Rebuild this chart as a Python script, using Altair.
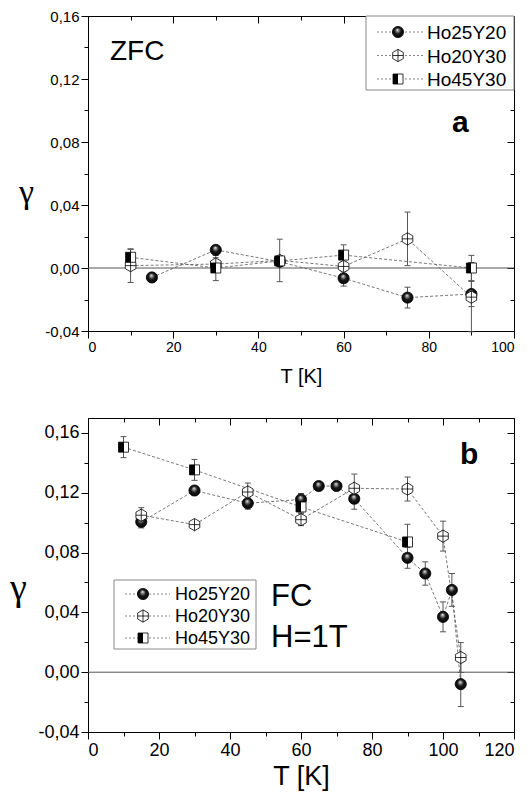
import altair as alt
import pandas as pd

series_names = ["Ho25Y20", "Ho20Y30", "Ho45Y30"]

# ---- panel a : ZFC ----
zfc_T_25 = [15, 30, 45, 60, 75, 90]
zfc_g_25 = [-0.006, 0.0115, 0.004, -0.0065, -0.0188, -0.0165]
zfc_e_25 = [0.0015, 0.002, 0.002, 0.005, 0.0066, 0.008]

zfc_T_20 = [10, 30, 45, 60, 75, 90]
zfc_g_20 = [0.0015, 0.0025, 0.0048, 0.001, 0.0185, -0.0185]
zfc_e_20 = [0.0107, 0.004, 0.0135, 0.003, 0.017, 0.022]

zfc_T_45 = [10, 30, 45, 60, 90]
zfc_g_45 = [0.0068, 0.0, 0.0045, 0.0082, 0.0]
zfc_e_45 = [0.005, 0.008, 0.003, 0.0065, 0.008]

# ---- panel b : FC, H=1T ----
fc_T_25 = [15, 30, 45, 60, 65, 70, 75, 90, 95, 100, 102.5, 105]
fc_g_25 = [0.1005, 0.1215, 0.113, 0.1155, 0.1245, 0.1245, 0.116, 0.0765, 0.066, 0.037, 0.055, -0.008]
fc_e_25 = [0.004, 0.003, 0.004, 0.004, 0.002, 0.003, 0.007, 0.007, 0.0078, 0.010, 0.011, 0.015]

fc_T_20 = [15, 30, 45, 60, 75, 90, 100, 105]
fc_g_20 = [0.105, 0.0987, 0.1205, 0.102, 0.123, 0.1225, 0.091, 0.0098]
fc_e_20 = [0.005, 0.002, 0.006, 0.004, 0.0095, 0.008, 0.010, 0.010]

fc_T_45 = [10, 30, 60, 90]
fc_g_45 = [0.1505, 0.1353, 0.1105, 0.0871]
fc_e_45 = [0.007, 0.007, 0.004, 0.0118]

# ---- ticks ----
a_x_major = [0, 20, 40, 60, 80, 100]
a_x_minor = [10, 30, 50, 70, 90]
b_x_major = [0, 20, 40, 60, 80, 100, 120]
b_x_minor = [10, 30, 50, 70, 90, 110]
y_major = [-0.04, 0.0, 0.04, 0.08, 0.12, 0.16]
y_minor = [-0.02, 0.02, 0.06, 0.10, 0.14]

FONT = "Liberation Sans"
SERIF = "Liberation Serif"

HEX = "M0,-1L0.866,-0.5L0.866,0.5L0,1L-0.866,0.5L-0.866,-0.5Z M0,-1L0,1 M-0.866,0L0.866,0"
SQR = "M-1,-1L1,-1L1,1L-1,1Z"
shapes = {"Ho25Y20": "circle", "Ho20Y30": HEX, "Ho45Y30": SQR}

SPHERE = {"gradient": "radial", "x1": 0.45, "y1": 0.3, "r1": 0.0,
          "x2": 0.5, "y2": 0.5, "r2": 0.55,
          "stops": [{"offset": 0.0, "color": "#f2f2f2"},
                    {"offset": 0.22, "color": "#8a8a8a"},
                    {"offset": 0.5, "color": "#1a1a1a"},
                    {"offset": 1.0, "color": "#000000"}]}
HALF = {"gradient": "linear", "x1": 0, "y1": 0, "x2": 1, "y2": 0,
        "stops": [{"offset": 0.0, "color": "black"}, {"offset": 0.5, "color": "black"},
                  {"offset": 0.5, "color": "white"}, {"offset": 1.0, "color": "white"}]}

fills = {"Ho25Y20": SPHERE, "Ho20Y30": "white", "Ho45Y30": HALF}
sizes = {"Ho25Y20": 125, "Ho20Y30": 150, "Ho45Y30": 100}

YLAB = "replace(replace(format(datum.value, '.2f'), '.', ','), '\u2212', '-')"


def mkdf(name, T, g, e):
    df = pd.DataFrame({"T": T, "g": g, "e": e})
    df["series"] = name
    df["lo"] = df["g"] - df["e"]
    df["hi"] = df["g"] + df["e"]
    return df


def marker(df, name, **enc):
    return alt.Chart(df).mark_point(
        shape=shapes[name], filled=True, fill=fills[name], stroke="black",
        strokeWidth=0.8, size=sizes[name], opacity=1).encode(**enc)


def legend_layers(box, rows_y, sym_x, line_x, lab_x, fs):
    x0, y0, x1, y1 = box
    one = pd.DataFrame({"k": [0]})
    out = [alt.Chart(one).mark_rect(fill="white", stroke="#888888", strokeWidth=1).encode(
        x=alt.value(x0), x2=alt.value(x1), y=alt.value(y0), y2=alt.value(y1))]
    for name, ry in zip(series_names, rows_y):
        d = pd.DataFrame({"s": [name]})
        out.append(alt.Chart(d).mark_rule(strokeDash=[2, 2], color="#666666",
                                          strokeWidth=0.8).encode(
            x=alt.value(line_x[0]), x2=alt.value(line_x[1]), y=alt.value(ry)))
        out.append(marker(d, name, x=alt.value(sym_x), y=alt.value(ry)))
        out.append(alt.Chart(d).mark_text(
            font=FONT, fontSize=fs, color="black", align="left", baseline="middle").encode(
            x=alt.value(lab_x), y=alt.value(ry + 1), text="s:N"))
    return out


def panel(dfs, xdom, ydom, xmaj, xmin, w, h, xfs, yfs, xtitle_fs, xtitle_pad,
          gam_x, gam_y, gam_fs, leg, texts):
    xs = alt.Scale(domain=xdom, nice=False, zero=False)
    ys = alt.Scale(domain=ydom, nice=False, zero=False)
    base = dfs[0]

    def axl(xa, ya):
        return alt.Chart(base).mark_point(opacity=0).encode(
            x=alt.X("T:Q", scale=xs, axis=xa), y=alt.Y("g:Q", scale=ys, axis=ya))

    common = dict(grid=False, tickColor="black", tickWidth=1, domainColor="black",
                  domainWidth=1)
    main = axl(
        alt.Axis(orient="bottom", values=xmaj, format="d", tickSize=7, labelFont=FONT,
                 labelFontSize=xfs, labelColor="black", labelPadding=2, title="T [K]",
                 titleFont=FONT, titleFontSize=xtitle_fs, titleFontWeight="normal",
                 titleColor="black", titlePadding=xtitle_pad, **common),
        alt.Axis(orient="left", values=y_major, labelExpr=YLAB, tickSize=7, labelFont=FONT,
                 labelFontSize=yfs, labelColor="black", labelPadding=2, title="γ",
                 titleAngle=0, titleX=gam_x, titleY=gam_y, titleAlign="center",
                 titleBaseline="middle", titleFont=SERIF, titleFontSize=gam_fs,
                 titleFontWeight="normal", titleColor="black", **common))
    minor = axl(
        alt.Axis(orient="bottom", values=xmin, labels=False, tickSize=4, domain=False,
                 title=None, **common),
        alt.Axis(orient="left", values=y_minor, labels=False, tickSize=4, domain=False,
                 title=None, **common))
    opp_major = axl(
        alt.Axis(orient="top", values=xmaj, labels=False, tickSize=7, offset=-7,
                 domain=False, title=None, **common),
        alt.Axis(orient="right", values=y_major, labels=False, tickSize=7, offset=-7,
                 domain=False, title=None, **common))
    opp_minor = axl(
        alt.Axis(orient="top", values=xmin, labels=False, tickSize=4, offset=-4,
                 domain=False, title=None, **common),
        alt.Axis(orient="right", values=y_minor, labels=False, tickSize=4, offset=-4,
                 domain=False, title=None, **common))

    zero = alt.Chart(pd.DataFrame({"g": [0.0]})).mark_rule(
        color="#555555", strokeWidth=1).encode(y=alt.Y("g:Q", scale=ys, axis=None))

    layers = [main, minor, opp_major, opp_minor, zero]
    for df in dfs:
        layers.append(alt.Chart(df).mark_line(
            strokeDash=[3, 2], color="#555555", strokeWidth=0.8).encode(
            x=alt.X("T:Q", scale=xs, axis=None), y=alt.Y("g:Q", scale=ys, axis=None)))
    for df in dfs:
        layers.append(alt.Chart(df).mark_rule(color="#555555", strokeWidth=1).encode(
            x=alt.X("T:Q", scale=xs, axis=None), y=alt.Y("lo:Q", scale=ys, axis=None),
            y2="hi:Q"))
        caps = pd.concat([df[["T", "lo"]].rename(columns={"lo": "c"}),
                          df[["T", "hi"]].rename(columns={"hi": "c"})])
        layers.append(alt.Chart(caps).mark_point(
            shape="M-1,0L1,0", size=36, stroke="#555555", strokeWidth=1, opacity=1).encode(
            x=alt.X("T:Q", scale=xs, axis=None), y=alt.Y("c:Q", scale=ys, axis=None)))
    for df in dfs:
        name = df["series"].iloc[0]
        layers.append(marker(df, name, x=alt.X("T:Q", scale=xs, axis=None),
                             y=alt.Y("g:Q", scale=ys, axis=None)))
    layers += legend_layers(*leg)
    for (txt, px, py, fs, fw) in texts:
        layers.append(alt.Chart(pd.DataFrame({"t": [txt]})).mark_text(
            font=FONT, fontSize=fs, fontWeight=fw, color="black",
            align="left", baseline="alphabetic").encode(
            x=alt.value(px), y=alt.value(py), text="t:N"))

    return alt.layer(*layers).properties(width=w, height=h).resolve_axis(
        x="independent", y="independent")


dfs_a = [mkdf("Ho25Y20", zfc_T_25, zfc_g_25, zfc_e_25),
         mkdf("Ho20Y30", zfc_T_20, zfc_g_20, zfc_e_20),
         mkdf("Ho45Y30", zfc_T_45, zfc_g_45, zfc_e_45)]
dfs_b = [mkdf("Ho25Y20", fc_T_25, fc_g_25, fc_e_25),
         mkdf("Ho20Y30", fc_T_20, fc_g_20, fc_e_20),
         mkdf("Ho45Y30", fc_T_45, fc_g_45, fc_e_45)]

# legend geometry (pixels inside each plot area)
leg_a = ((278, 0, 426, 74), [16, 39.5, 63], 310, (289, 335), 339, 19)
leg_b = ((26, 162, 168, 231), [176, 198, 220], 55, (37, 82), 87, 18)

top = panel(dfs_a, [0, 100], [-0.04, 0.16], a_x_major, a_x_minor, 426, 315,
            14, 15, 20, 12, -62, 176, 34, leg_a,
            [("ZFC", 22, 44, 28, "normal"), ("a", 364, 116, 30, "bold")])
bottom = panel(dfs_b, [0, 120], [-0.04, 0.17], b_x_major, b_x_minor, 426, 314,
               18, 18, 27, 4, -70, 170, 38, leg_b,
               [("FC", 183, 188, 31, "normal"), ("H=1T", 183, 229, 31, "normal"),
                ("b", 372, 46, 30, "bold")])

chart = alt.vconcat(top, bottom, spacing=30).resolve_scale(
    x="independent", y="independent").properties(
    padding={"left": 1, "top": 0, "right": 0, "bottom": 2}).configure_view(
    stroke="black", strokeWidth=1)

chart.save("out.html", embed_options={"renderer": "svg", "actions": False})
